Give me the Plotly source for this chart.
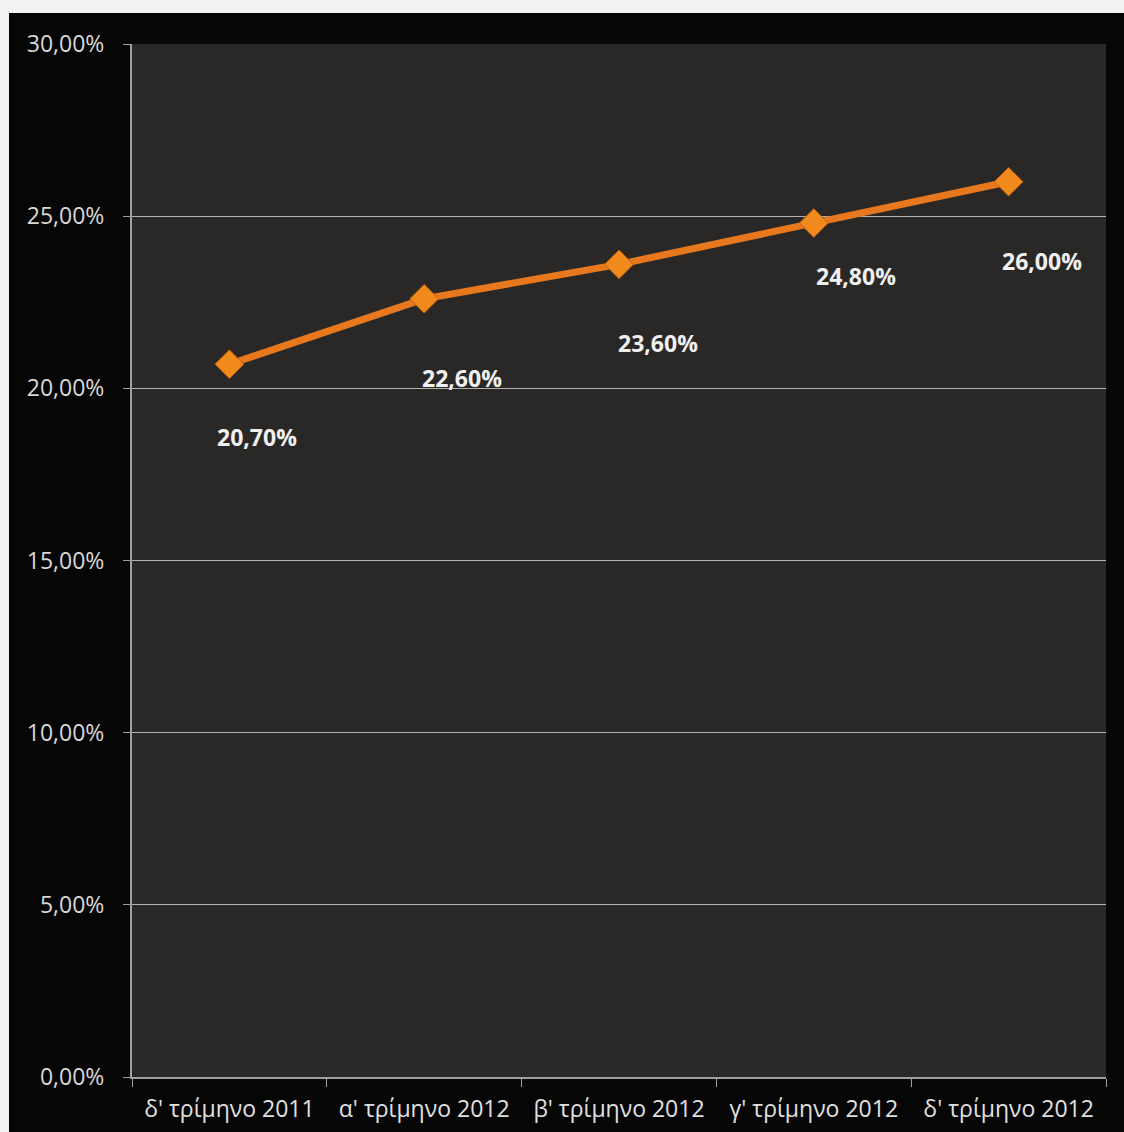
import plotly.graph_objects as go

categories = ["δ' τρίμηνο 2011", "α' τρίμηνο 2012", "β' τρίμηνο 2012", "γ' τρίμηνο 2012", "δ' τρίμηνο 2012"]
values = [20.7, 22.6, 23.6, 24.8, 26.0]
y_ticks = [0, 5, 10, 15, 20, 25, 30]
y_tick_labels = ["0,00%", "5,00%", "10,00%", "15,00%", "20,00%", "25,00%", "30,00%"]
value_labels = ["20,70%", "22,60%", "23,60%", "24,80%", "26,00%"]

# label offsets (pixels) relative to each point - styling only
label_dx = [28, 38, 39, 42, 33]
label_dy = [-73, -79, -79, -53, -79]

W, H = 1124, 1132
L, R, T, B = 132, 18, 44, 55

fig = go.Figure()
fig.add_trace(go.Scatter(
    x=categories, y=values, mode="lines+markers",
    line=dict(color="#e8781e", width=7),
    marker=dict(symbol="diamond", size=22, color="#f08a1c",
                line=dict(color="#c8620f", width=1)),
    hoverinfo="skip", showlegend=False,
))

for c, v, t, dx, dy in zip(categories, values, value_labels, label_dx, label_dy):
    fig.add_annotation(x=c, y=v, text="<b>" + t + "</b>", showarrow=False,
                       xshift=dx, yshift=dy,
                       font=dict(color="#f0f0f0", size=23, family="Open Sans"))

pw = W - L - R
ph = H - T - B
def px_x(p):
    return (p - L) / pw
def px_y(p):
    return (H - B - p) / ph

# white strips around the photographed chart
fig.add_shape(type="rect", xref="paper", yref="paper",
              x0=px_x(0), x1=px_x(W), y0=px_y(13), y1=px_y(0),
              fillcolor="#f2f2f2", line_width=0, layer="above")
fig.add_shape(type="rect", xref="paper", yref="paper",
              x0=px_x(0), x1=px_x(9), y0=px_y(H), y1=px_y(13),
              fillcolor="#f2f2f2", line_width=0, layer="above")

fig.update_layout(
    width=W, height=H,
    margin=dict(l=L, r=R, t=T, b=B, autoexpand=False),
    paper_bgcolor="#060606",
    plot_bgcolor="#2a2827",
    font=dict(family="Open Sans", color="#d8d8d8", size=22),
    xaxis=dict(type="category", tickson="boundaries", ticks="outside",
               ticklen=8, tickcolor="#a0a0a0", showgrid=False,
               showline=True, linecolor="#a0a0a0", linewidth=2,
               tickfont=dict(size=23, color="#e0e0e0"),
               ticklabelstandoff=10, automargin=False,
               range=[-0.5, 4.5]),
    yaxis=dict(range=[0, 30], tickvals=y_ticks, ticktext=y_tick_labels,
               showgrid=True, gridcolor="#b0b0b0", gridwidth=1,
               ticks="outside", ticklen=7, tickcolor="#a0a0a0",
               showline=True, linecolor="#a0a0a0", linewidth=2,
               tickfont=dict(size=23, color="#d8d8d8"), zeroline=False,
               ticklabelstandoff=14, automargin=False),
)

fig.write_html("out.html")
